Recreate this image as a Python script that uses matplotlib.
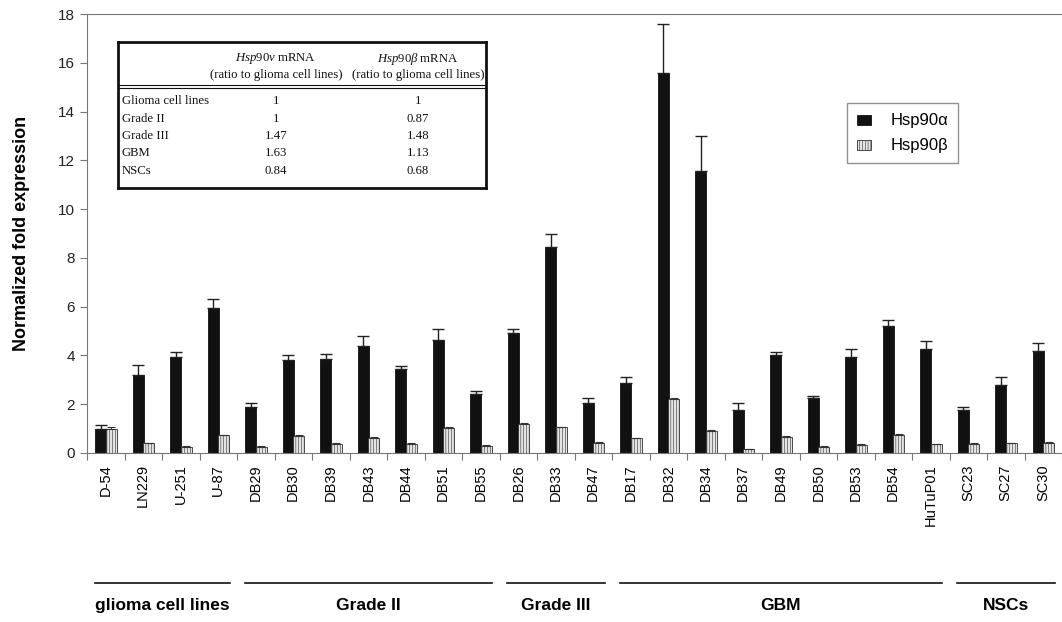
import matplotlib
matplotlib.use("Agg")
import matplotlib.pyplot as plt
import numpy as np

plt.rcParams["font.family"] = ["Liberation Sans", "DejaVu Sans"]
plt.rcParams["mathtext.fontset"] = "custom"
plt.rcParams["mathtext.rm"] = "Liberation Serif"
plt.rcParams["mathtext.it"] = "Liberation Serif:italic"
plt.rcParams["hatch.linewidth"] = 0.4
plt.rcParams["hatch.color"] = "#666666"

# sample names and groups
samples = ["D-54", "LN229", "U-251", "U-87",
           "DB29", "DB30", "DB39", "DB43", "DB44", "DB51", "DB55",
           "DB26", "DB33", "DB47",
           "DB17", "DB32", "DB34", "DB37", "DB49", "DB50", "DB53", "DB54", "HuTuP01",
           "SC23", "SC27", "SC30"]
groups = ["glioma cell lines", "Grade II", "Grade III", "GBM", "NSCs"]
group_sizes = [4, 7, 3, 9, 3]

hsp90a = [1.0, 3.2, 3.95, 5.95,
          1.9, 3.8, 3.85, 4.4, 3.45, 4.65, 2.4,
          4.9, 8.45, 2.05,
          2.85, 15.6, 11.55, 1.75, 4.0, 2.25, 3.95, 5.2, 4.25,
          1.75, 2.8, 4.2]
hsp90a_err = [0.15, 0.4, 0.2, 0.35,
              0.15, 0.2, 0.2, 0.4, 0.1, 0.45, 0.15,
              0.2, 0.55, 0.2,
              0.25, 2.0, 1.45, 0.3, 0.15, 0.1, 0.3, 0.25, 0.35,
              0.15, 0.3, 0.3]
hsp90b = [1.0, 0.4, 0.25, 0.72,
          0.25, 0.7, 0.38, 0.62, 0.38, 1.02, 0.3,
          1.18, 1.05, 0.43,
          0.6, 2.2, 0.9, 0.15, 0.67, 0.26, 0.33, 0.75, 0.35,
          0.38, 0.4, 0.43]
hsp90b_err = [0.08, 0.02, 0.02, 0.03,
              0.02, 0.03, 0.02, 0.03, 0.02, 0.05, 0.02,
              0.05, 0.03, 0.02,
              0.03, 0.05, 0.05, 0.02, 0.03, 0.02, 0.02, 0.03, 0.02,
              0.02, 0.02, 0.02]

# inset table
table_rows = ["Glioma cell lines", "Grade II", "Grade III", "GBM", "NSCs"]
hsp90v_ratio = ["1", "1", "1.47", "1.63", "0.84"]
hsp90b_ratio = ["1", "0.87", "1.48", "1.13", "0.68"]

fig = plt.figure(figsize=(10.62, 6.22), dpi=100)
ax = fig.add_axes([87 / 1062, 1 - 453 / 622, 1 - 87 / 1062, (453 - 14) / 622])

x = np.arange(len(samples))
w = 0.29
zeros = np.zeros(len(samples))
ax.bar(x - 0.13, hsp90a, w, color="#111111", edgecolor="#111111", linewidth=0.6,
       yerr=[zeros, hsp90a_err], capsize=4,
       error_kw=dict(ecolor="#222222", elinewidth=1, capthick=1),
       label="Hsp90\u03b1")
ax.bar(x + 0.15, hsp90b, w, color="#e4e4e4", edgecolor="#333333", linewidth=0.6,
       hatch="||||||", yerr=[zeros, hsp90b_err], capsize=3,
       error_kw=dict(ecolor="#333333", elinewidth=0.8, capthick=0.8),
       label="Hsp90\u03b2")

ax.set_xlim(-0.5, len(samples) - 0.5)
ax.set_ylim(0, 18)
ax.set_yticks(np.arange(0, 19, 2))
ax.tick_params(axis="y", labelsize=11, color="#777777", length=5, labelcolor="#222222")
ax.set_xticks(np.arange(-0.5, len(samples), 1))
ax.set_xticklabels([])
ax.tick_params(axis="x", which="major", color="#777777", length=5)
ax.set_xticks(x, minor=True)
ax.set_xticklabels(samples, minor=True, rotation=90, fontsize=10.5, va="top")
ax.tick_params(axis="x", which="minor", length=0, pad=8)
for s in ["left", "bottom", "top"]:
    ax.spines[s].set_color("#777777")
ax.spines["right"].set_visible(False)
ax.set_ylabel("Normalized fold expression", fontsize=13, fontweight="bold", labelpad=20)

# group labels under the axis
start = 0
for name, n in zip(groups, group_sizes):
    first, last = start, start + n - 1
    ax.plot([first - 0.3, last + 0.3], [-5.35, -5.35], color="#111111", lw=1.2,
            clip_on=False)
    ax.text((first + last) / 2, -5.95, name, ha="center", va="top", fontsize=12.5,
            fontweight="bold", clip_on=False)
    start += n

leg = ax.legend(loc="upper left", bbox_to_anchor=(847 / 1062, 1 - 103 / 622),
                bbox_transform=fig.transFigure, fancybox=False, fontsize=12,
                handlelength=0.7, handleheight=0.7, borderpad=0.6, labelspacing=0.6,
                handletextpad=1.3, borderaxespad=0)
leg.get_frame().set_edgecolor("#777777")
leg.get_frame().set_linewidth(1)
for h in leg.legend_handles:
    h.set_height(7)
    h.set_width(10)

# table inset, laid out in pixel coordinates of the figure
tx = fig.add_axes([118 / 1062, 1 - 188 / 622, (486 - 118) / 1062, (188 - 42) / 622])
tx.set_xlim(118, 486)
tx.set_ylim(188, 42)
tx.set_xticks([])
tx.set_yticks([])
for s in tx.spines.values():
    s.set_linewidth(2)
    s.set_color("#111111")
serif = dict(family="Liberation Serif", fontsize=9.2, color="#111111")
c1, c2 = 276, 418
tx.text(c1, 59, r"$\it{Hsp90v}$ mRNA", ha="center", va="center", **serif)
tx.text(c1, 75, "(ratio to glioma cell lines)", ha="center", va="center", **serif)
tx.text(c2, 59, r"$\it{Hsp90\beta}$ mRNA", ha="center", va="center", **serif)
tx.text(c2, 75, "(ratio to glioma cell lines)", ha="center", va="center", **serif)
tx.axhline(85, color="#111111", lw=0.8)
tx.axhline(88, color="#111111", lw=0.8)
for i, (r, v, b) in enumerate(zip(table_rows, hsp90v_ratio, hsp90b_ratio)):
    yy = 101 + 17.5 * i
    tx.text(122, yy, r, ha="left", va="center", **serif)
    tx.text(c1, yy, v, ha="center", va="center", **serif)
    tx.text(c2, yy, b, ha="center", va="center", **serif)

fig.savefig("out.png", dpi=100)
